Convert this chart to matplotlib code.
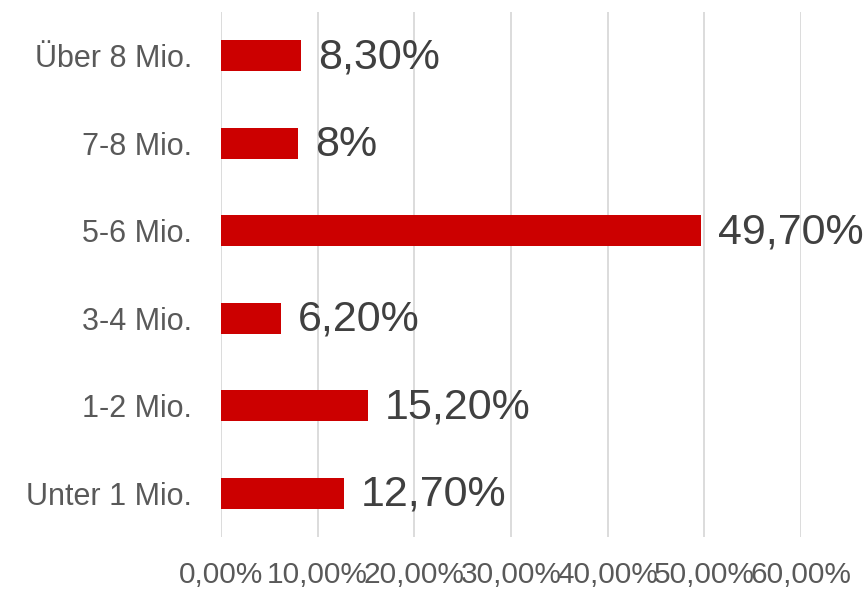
import matplotlib.pyplot as plt

plt.rcParams['font.family'] = ['Liberation Sans', 'DejaVu Sans']

# data (top to bottom as shown)
categories = ["Über 8 Mio.", "7-8 Mio.", "5-6 Mio.", "3-4 Mio.", "1-2 Mio.", "Unter 1 Mio."]
values = [8.3, 8.0, 49.7, 6.2, 15.2, 12.7]
value_labels = ["8,30%", "8%", "49,70%", "6,20%", "15,20%", "12,70%"]
xticks = [0, 10, 20, 30, 40, 50, 60]
xtick_labels = ["0,00%", "10,00%", "20,00%", "30,00%", "40,00%", "50,00%", "60,00%"]

fig = plt.figure(figsize=(8.68, 5.9), dpi=100)
ax = fig.add_axes([0.2546, 0.0898, 0.668, 0.890])

ypos = list(range(len(categories)))[::-1]
ax.barh(ypos, values, height=0.355, color="#CC0000", zorder=3)

for y, v, lab in zip(ypos, values, value_labels):
    ax.annotate(lab, (v, y), xytext=(12, -1), textcoords="offset points",
                va="center", ha="left", fontsize=31, color="#404040")

ax.set_xlim(0, 60)
ax.set_ylim(-0.5, 5.5)
ax.set_xticks(xticks)
ax.set_xticklabels(xtick_labels, fontsize=21.5, color="#595959")
ax.set_yticks(ypos)
ax.set_yticklabels(categories, fontsize=22, color="#595959")
ax.tick_params(axis="x", length=0, pad=17)
ax.tick_params(axis="y", length=0, pad=21)
ax.grid(axis="x", color="#D9D9D9", linewidth=1.3, zorder=0)
for s in ax.spines.values():
    s.set_visible(False)

fig.savefig("out.png", dpi=100)
